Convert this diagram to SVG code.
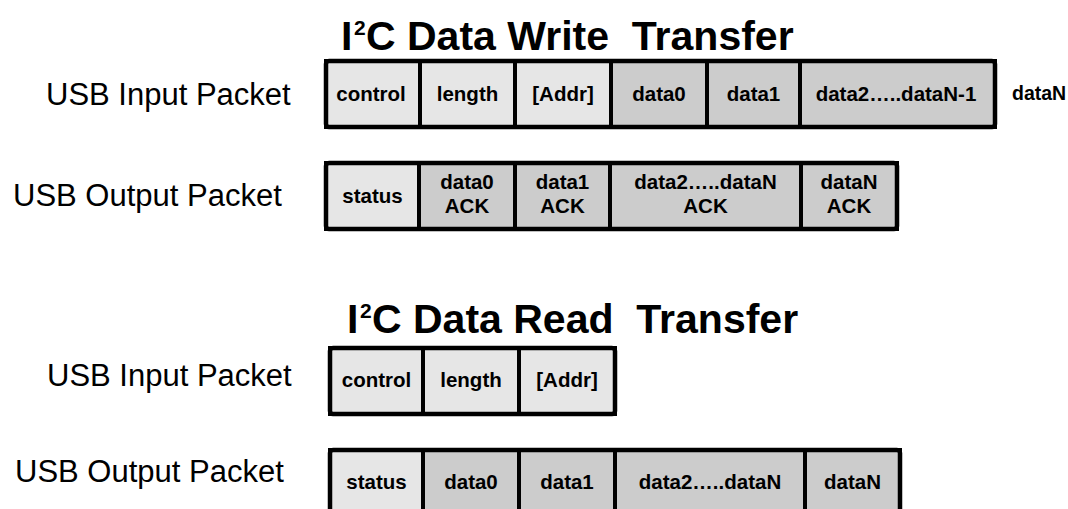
<svg xmlns="http://www.w3.org/2000/svg" width="1068" height="509" viewBox="0 0 1068 509">
<style>
.title{font-family:"Liberation Sans",Arial,sans-serif;font-weight:bold;font-size:41px;fill:#000;white-space:pre}
.sup{font-size:21px}
.lbl{font-family:"Liberation Sans",Arial,sans-serif;font-size:31px;fill:#000}
.ct{font-family:"Liberation Sans",Arial,sans-serif;font-weight:bold;font-size:20.5px;fill:#000;text-anchor:middle}
.free{font-family:"Liberation Sans",Arial,sans-serif;font-weight:bold;font-size:19.5px;fill:#000}
.lt{fill:#e6e6e6;stroke:#000;stroke-width:4}
.dk{fill:#cccccc;stroke:#000;stroke-width:4}
.frame{fill:none;stroke:#000;stroke-width:4.5;stroke-linejoin:round}
</style>
<rect width="1068" height="509" fill="#fff"/>

<g id="titles">
<text class="title" y="50"><tspan x="341">I</tspan><tspan class="sup" x="354" y="35">2</tspan><tspan x="366" y="50">C Data Write  Transfer</tspan></text>
<text class="title" y="333"><tspan x="347">I</tspan><tspan class="sup" x="360" y="318">2</tspan><tspan x="372" y="333">C Data Read  Transfer</tspan></text>
</g>

<g id="labels">
<text class="lbl" x="46" y="105">USB Input Packet</text>
<text class="lbl" x="13" y="206">USB Output Packet</text>
<text class="lbl" x="47" y="386">USB Input Packet</text>
<text class="lbl" x="15" y="482">USB Output Packet</text>
</g>

<g id="write-input">
<g id="wi-control"><rect class="lt" x="326" y="61" width="94" height="66"/><text class="ct" x="371" y="101">control</text></g>
<g id="wi-length"><rect class="lt" x="420" y="61" width="95" height="66"/><text class="ct" x="467.5" y="101">length</text></g>
<g id="wi-addr"><rect class="lt" x="515" y="61" width="96" height="66"/><text class="ct" x="563" y="101">[Addr]</text></g>
<g id="wi-data0"><rect class="dk" x="611" y="61" width="96" height="66"/><text class="ct" x="659" y="101">data0</text></g>
<g id="wi-data1"><rect class="dk" x="707" y="61" width="93" height="66"/><text class="ct" x="753.5" y="101">data1</text></g>
<g id="wi-data2"><rect class="dk" x="800" y="61" width="195" height="66"/><text class="ct" x="896" y="101">data2…..dataN-1</text></g>
<rect class="frame" x="326" y="61" width="669" height="66" rx="3"/>
</g>
<g id="wi-dataN"><text class="free" x="1012" y="100">dataN</text></g>

<g id="write-output">
<g id="wo-status"><rect class="lt" x="326" y="163" width="93" height="66"/><text class="ct" x="372.5" y="203">status</text></g>
<g id="wo-data0"><rect class="dk" x="419" y="163" width="96" height="66"/><text class="ct" x="467" y="189">data0</text><text class="ct" x="467" y="213">ACK</text></g>
<g id="wo-data1"><rect class="dk" x="515" y="163" width="95" height="66"/><text class="ct" x="562.5" y="189">data1</text><text class="ct" x="562.5" y="213">ACK</text></g>
<g id="wo-data2"><rect class="dk" x="610" y="163" width="191" height="66"/><text class="ct" x="705.5" y="189">data2…..dataN</text><text class="ct" x="705.5" y="213">ACK</text></g>
<g id="wo-dataN"><rect class="dk" x="801" y="163" width="96" height="66"/><text class="ct" x="849" y="189">dataN</text><text class="ct" x="849" y="213">ACK</text></g>
<rect class="frame" x="326" y="163" width="571" height="66" rx="3"/>
</g>

<g id="read-input">
<g id="ri-control"><rect class="lt" x="330" y="348" width="93" height="66"/><text class="ct" x="376.5" y="387">control</text></g>
<g id="ri-length"><rect class="lt" x="423" y="348" width="96" height="66"/><text class="ct" x="471" y="387">length</text></g>
<g id="ri-addr"><rect class="lt" x="519" y="348" width="96" height="66"/><text class="ct" x="567" y="387">[Addr]</text></g>
<rect class="frame" x="330" y="348" width="285" height="66" rx="3"/>
</g>

<g id="read-output">
<g id="ro-status"><rect class="lt" x="330" y="450" width="93" height="66"/><text class="ct" x="376.5" y="489">status</text></g>
<g id="ro-data0"><rect class="dk" x="423" y="450" width="96" height="66"/><text class="ct" x="471" y="489">data0</text></g>
<g id="ro-data1"><rect class="dk" x="519" y="450" width="96" height="66"/><text class="ct" x="567" y="489">data1</text></g>
<g id="ro-data2"><rect class="dk" x="615" y="450" width="190" height="66"/><text class="ct" x="710" y="489">data2…..dataN</text></g>
<g id="ro-dataN"><rect class="dk" x="805" y="450" width="95" height="66"/><text class="ct" x="852.5" y="489">dataN</text></g>
<rect class="frame" x="330" y="450" width="570" height="66" rx="3"/>
</g>

<g id="connectors"/>
</svg>
